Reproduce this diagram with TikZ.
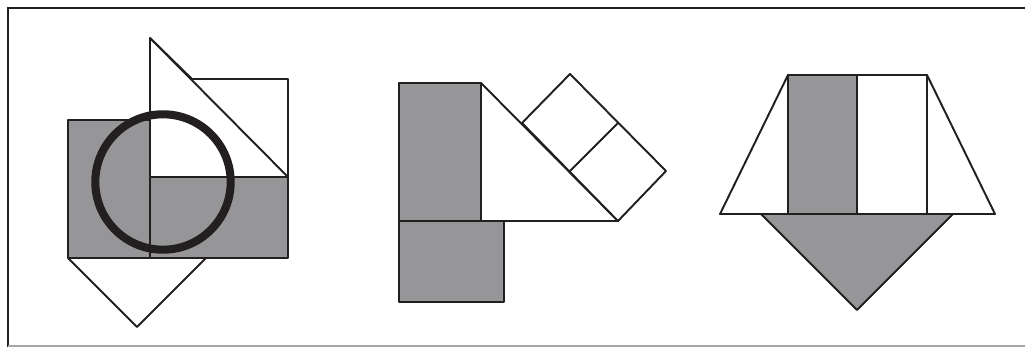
\documentclass[tikz,border=0pt]{standalone}
\usepackage{tikz}
\definecolor{figgray}{RGB}{150,150,153}
\definecolor{ink}{RGB}{35,31,32}
\tikzset{
  outline/.style={draw=ink,line width=1.1pt,line join=round},
  grayface/.style={outline,fill=figgray},
  whiteface/.style={outline,fill=white},
  ring/.style={draw=ink,line width=4.6pt},
  frame/.style={draw=ink,line width=0.8pt}
}
\begin{document}
\begin{tikzpicture}[x=0.02cm,y=-0.02cm]
\useasboundingbox (0,0) rectangle (1025,347);
% frame
\draw[frame] (8,347) -- (8,8) -- (1025,8);
\draw[draw=gray!70,line width=0.6pt] (8,346) -- (1025,346);
% ---- figure 1
\draw[grayface] (68,120) rectangle (288,258);
\draw[whiteface] (68,258) -- (137,327) -- (206,258);
\draw[whiteface] (150,38) -- (192,79) -- (288,79) -- (288,177) -- (150,177) -- cycle;
\draw[outline] (150,38) -- (288,177);
\draw[outline] (150,38) -- (150,258);
\draw[outline] (150,177) -- (288,177);
\draw[outline] (68,258) -- (288,258);
\draw[ring] (163,182) circle (67.7);
% ---- figure 2
\draw[grayface] (399,83) rectangle (481,221);
\draw[grayface] (399,221) rectangle (504,302);
\draw[whiteface] (481,83) -- (618,221) -- (481,221) -- cycle;
\draw[whiteface] (522,123) -- (570,74) -- (666,171) -- (618,221) -- cycle;
\draw[outline] (570,171) -- (618,123);
% ---- figure 3
\draw[whiteface] (788,75) -- (927,75) -- (995,214) -- (720,214) -- cycle;
\draw[grayface] (788,75) rectangle (857,214);
\draw[outline] (927,75) -- (927,214);
\draw[grayface] (761,214) -- (953,214) -- (857,310) -- cycle;
\draw[outline] (720,214) -- (995,214);
\end{tikzpicture}
\end{document}
